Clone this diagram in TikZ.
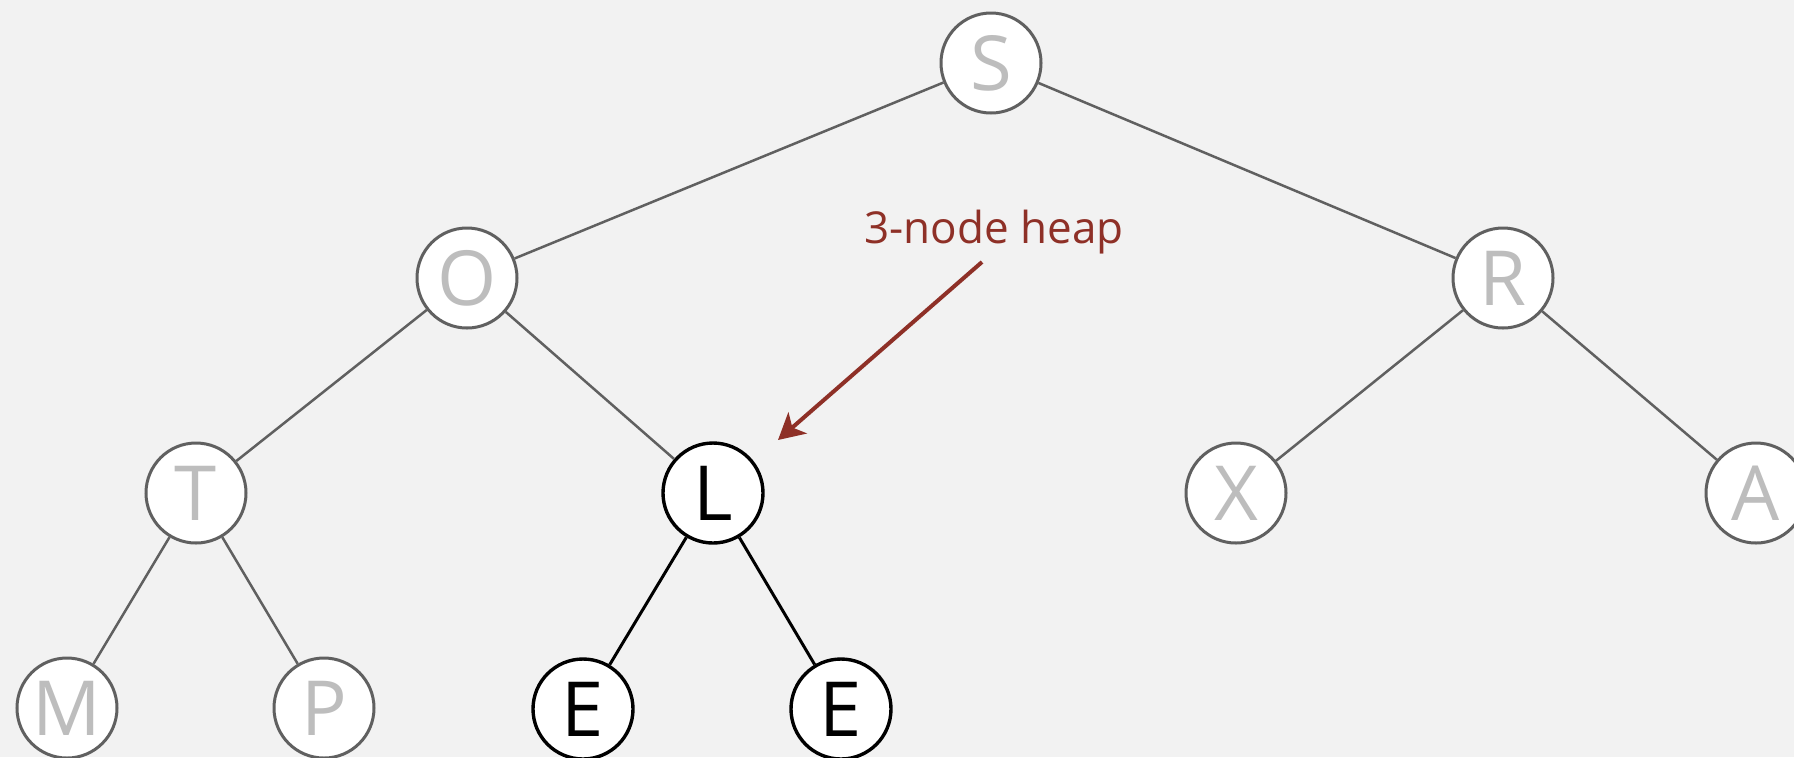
\documentclass[tikz,border=0pt]{standalone}
\usepackage{fontspec}
\setmainfont{Open Sans}
\usetikzlibrary{arrows.meta}
\definecolor{bg}{HTML}{F2F2F2}
\definecolor{edgegray}{HTML}{606060}
\definecolor{lettergray}{HTML}{BDBDBD}
\definecolor{labelred}{HTML}{8E3027}
\tikzset{
  x=0.5pt, y=-0.5pt,
  keynode/.style={circle, draw=edgegray, line width=1.5pt, fill=white, minimum size=50pt, inner sep=0pt,
    text=lettergray, font=\fontsize{38}{38}\selectfont},
  hotnode/.style={keynode, draw=black, line width=1.7pt, text=black},
  edgeline/.style={draw=edgegray, line width=1.25pt},
  hotedge/.style={draw=black, line width=1.5pt},
  callout/.style={draw=labelred, line width=2pt, -{Stealth[length=13pt, width=14pt, inset=3.5pt, fill=labelred]}},
}
\begin{document}
\begin{tikzpicture}
\fill[bg] (0,0) rectangle (1794,757);
\useasboundingbox (0,0) rectangle (1794,757);

\node[keynode] (S) at (991,63) {S};
\node[keynode] (O) at (467,278) {O};
\node[keynode] (R) at (1503,278) {R};
\node[keynode] (T) at (196,493) {T};
\node[hotnode] (L) at (713,493) {L};
\node[keynode] (X) at (1236,493) {X};
\node[keynode] (A) at (1756,493) {A};
\node[keynode] (M) at (67,708) {M};
\node[keynode] (P) at (324,708) {P};
\node[hotnode] (E1) at (583,709) {E};
\node[hotnode] (E2) at (841,709) {E};

\draw[edgeline] (S) -- (O);
\draw[edgeline] (S) -- (R);
\draw[edgeline] (O) -- (T);
\draw[edgeline] (O) -- (L);
\draw[edgeline] (R) -- (X);
\draw[edgeline] (R) -- (A);
\draw[edgeline] (T) -- (M);
\draw[edgeline] (T) -- (P);
\draw[hotedge] (L) -- (E1);
\draw[hotedge] (L) -- (E2);

\node[anchor=base, text=labelred, font=\fontsize{22}{22}\selectfont, inner sep=0pt] (lbl) at (994,243) {3-node heap};
\coordinate (from) at (982,262);
\coordinate (to) at (778,440);
\draw[callout] (from) -- (to);
\end{tikzpicture}
\end{document}
